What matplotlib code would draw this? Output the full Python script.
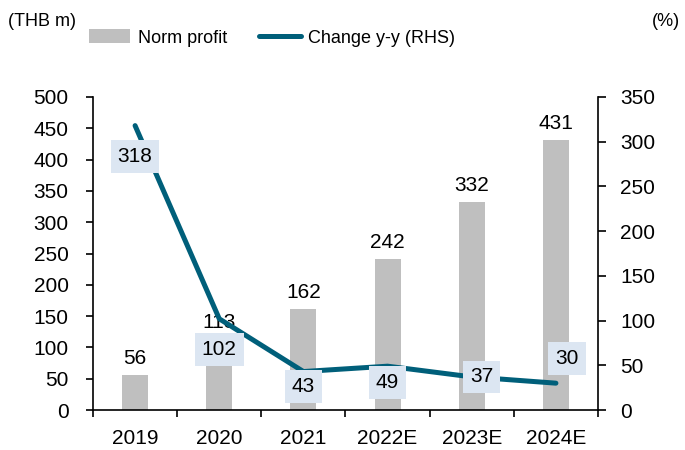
import matplotlib
matplotlib.use("Agg")
import matplotlib.pyplot as plt
from matplotlib.patches import Patch
from matplotlib.lines import Line2D
import numpy as np

categories = ["2019", "2020", "2021", "2022E", "2023E", "2024E"]
norm_profit = [56, 113, 162, 242, 332, 431]
change_yy = [318, 102, 43, 49, 37, 30]
left_ticks = [0, 50, 100, 150, 200, 250, 300, 350, 400, 450, 500]
right_ticks = [0, 50, 100, 150, 200, 250, 300, 350]

bar_color = "#bfbfbf"
line_color = "#005f7a"
box_color = "#dce6f2"
fs = 15
fs_leg = 13

plt.rcParams['font.family'] = ['Liberation Sans', 'DejaVu Sans']

fig = plt.figure(figsize=(6.85, 4.5), dpi=100)
ax = fig.add_axes([93/685, 40/450, (598-93)/685, (410-97)/450])
ax2 = ax.twinx()

x = np.arange(len(categories))
ax.bar(x, norm_profit, width=0.31, color=bar_color, zorder=1)
ax.set_xlim(-0.5, len(categories) - 0.5)
ax.set_ylim(0, 500)
ax.set_yticks(left_ticks)
ax2.set_ylim(0, 350)
ax2.set_yticks(right_ticks)

ax2.plot(x, change_yy, color=line_color, lw=3.6, solid_capstyle='round',
         solid_joinstyle='round', zorder=3)

for xi, v in zip(x, norm_profit):
    ax.annotate(str(v), (xi, v), xytext=(0, 5), textcoords='offset points',
                ha='center', va='bottom', fontsize=fs, color='black')

offsets = [(0, -22), (0, -22), (0, -11), (0, -11.5), (7, 0), (8, 18)]
for xi, v, off in zip(x, change_yy, offsets):
    ax2.annotate(str(v), (xi, v), xytext=off, textcoords='offset points',
                 ha='center', va='center', fontsize=fs, color='black', zorder=5,
                 bbox=dict(boxstyle='square,pad=0.33', fc=box_color, ec='none'))

# x axis: labels at centers, ticks at boundaries
ax.set_xticks(x)
ax.set_xticklabels(categories, fontsize=fs)
ax.tick_params(axis='x', which='major', length=0, pad=14)
ax.set_xticks(np.arange(-0.5, len(categories)), minor=True)
ax.tick_params(axis='x', which='minor', length=5, width=1.2, direction='out')

ax.tick_params(axis='y', labelsize=fs, length=5, width=1.2, direction='out', pad=12.5)
ax2.tick_params(axis='y', labelsize=fs, length=6, width=1.2, direction='out', pad=10)

for a in (ax, ax2):
    a.spines['top'].set_visible(False)
    for s in ('left', 'right', 'bottom'):
        a.spines[s].set_linewidth(1.2)
ax.spines['right'].set_visible(False)
ax2.spines['left'].set_visible(False)
ax2.spines['bottom'].set_visible(False)

fig.text(8/685, 1 - 22/450, "(THB m)", fontsize=fs_leg, ha='left', va='center')
fig.text(680/685, 1 - 22/450, "(%)", fontsize=fs_leg, ha='right', va='center')

handles = [Patch(facecolor=bar_color, edgecolor='none'),
           Line2D([0], [0], color=line_color, lw=3.6, solid_capstyle='round')]
fig.legend(handles, ["Norm profit", "Change y-y (RHS)"], loc='center',
           bbox_to_anchor=(272/685, 1 - 38/450), ncol=2, frameon=False,
           fontsize=fs_leg, handlelength=2.3, handleheight=0.8, handletextpad=0.4,
           columnspacing=1.8)

fig.savefig("out.png", dpi=100)
